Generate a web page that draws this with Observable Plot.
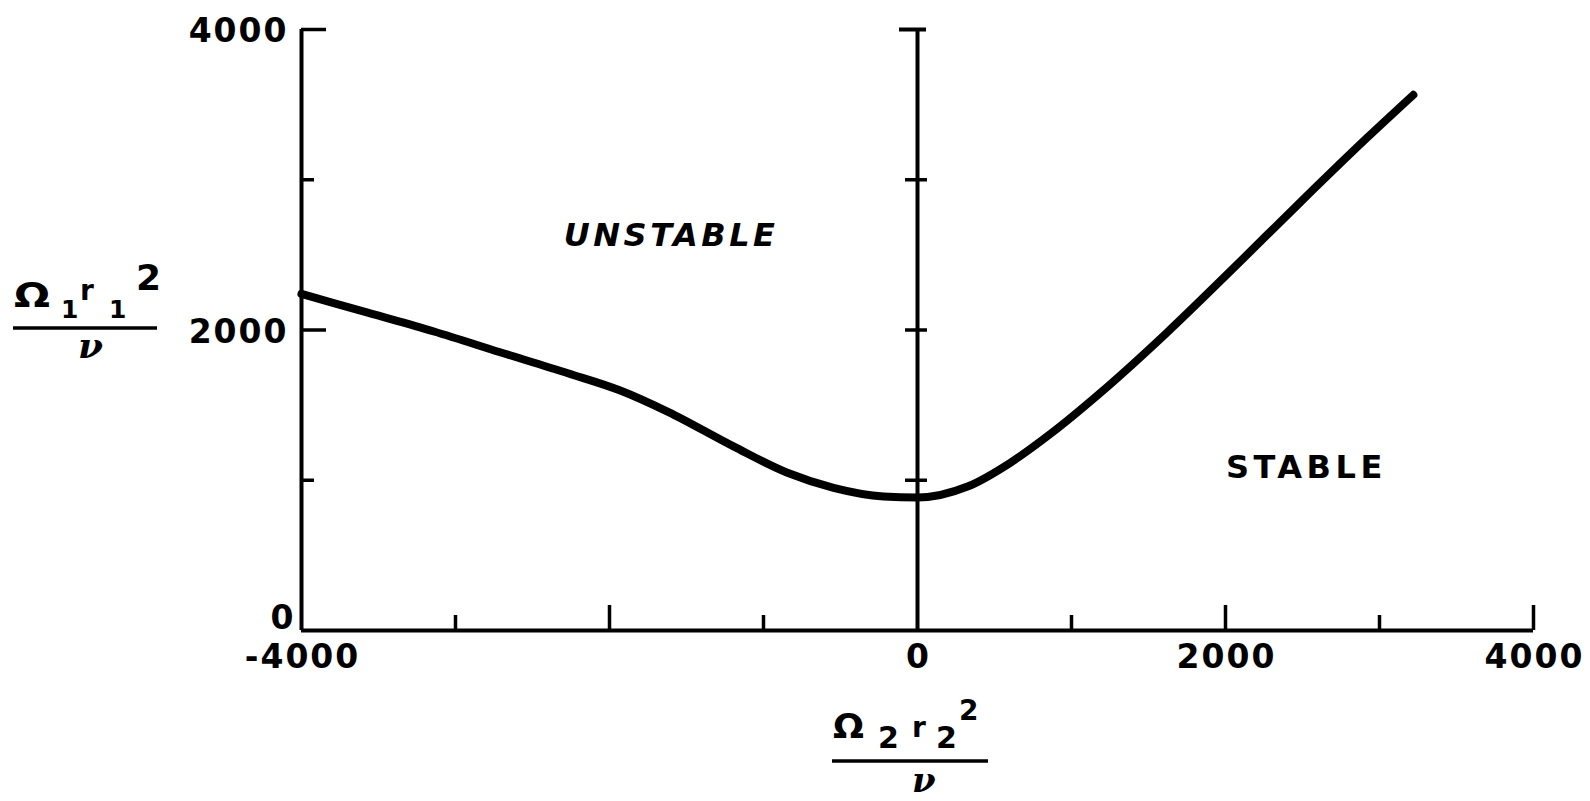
<!DOCTYPE html>
<html><head><meta charset="utf-8">
<script src="https://cdn.jsdelivr.net/npm/d3@7"></script>
<script src="https://cdn.jsdelivr.net/npm/@observablehq/plot@0.6"></script>
<style>
body{margin:0;background:#fff}
svg{display:block}
</style>
</head><body><div id="chart"></div>
<script>
// Curve: x = Ω2 r2²/ν, y = Ω1 r1²/ν
const curveX = [-4000, -3570, -3140, -2710, -2270, -1930, -1620, -1195, -845, -545, -220, 0, 325, 605, 865, 1190, 1620, 2050, 2490, 2920, 3220];
const curveY = [2240, 2115, 1990, 1852, 1712, 1597, 1455, 1225, 1050, 950, 892, 885, 958, 1118, 1310, 1584, 1983, 2410, 2855, 3280, 3565];

const xMajorTicks = [-2000, 2000, 4000];
const xMinorTicks = [-3000, -1000, 1000, 3000];
const yMajorTicks = [2000, 4000];
const yMinorTicks = [1000, 3000];
const centerTicks = [1000, 2000, 3000];
const centerTopTick = [4000];
const xTickLabels = [-4000, 0, 2000, 4000];
const yTickLabels = [2000, 4000];
const yZeroLabel = [0];

const regionNames = ["UNSTABLE", "STABLE"];
const regionX = [-1600, 2525];
const regionY = [2630, 1085];

const curve = curveX.map((x, i) => ({x, y: curveY[i]}));
const regions = regionNames.map((name, i) => ({name, x: regionX[i], y: regionY[i]}));

const font = "DejaVu Sans";
const chart = Plot.plot({
  width: 1590, height: 801,
  marginLeft: 301, marginRight: 57, marginTop: 29, marginBottom: 171,
  x: {domain: [-4000, 4000], axis: null},
  y: {domain: [0, 4000], axis: null},
  style: {background: "white", fontFamily: font, color: "black"},
  marks: [
    Plot.ruleX([-4000, 0], {y1: 0, y2: 4000, stroke: "black", strokeWidth: 4}),
    Plot.ruleY([0], {x1: -4000, x2: 4000, stroke: "black", strokeWidth: 4}),
    Plot.ruleX(xMajorTicks, {y1: 0, y2: 0, insetTop: 0, insetBottom: 25, stroke: "black", strokeWidth: 3.5}),
    Plot.ruleX(xMinorTicks, {y1: 0, y2: 0, insetTop: 0, insetBottom: 15, stroke: "black", strokeWidth: 3.5}),
    Plot.ruleY(yMajorTicks, {x1: -4000, x2: -4000, insetLeft: 0, insetRight: -25, stroke: "black", strokeWidth: 3.5}),
    Plot.ruleY(yMinorTicks, {x1: -4000, x2: -4000, insetLeft: 0, insetRight: -13, stroke: "black", strokeWidth: 3.5}),
    Plot.ruleY(centerTicks, {x1: 0, x2: 0, insetLeft: -12, insetRight: -10, stroke: "black", strokeWidth: 3.5}),
    Plot.ruleY(centerTopTick, {x1: 0, x2: 0, insetLeft: -18, insetRight: -9, stroke: "black", strokeWidth: 4}),
    Plot.line(curve, {x: "x", y: "y", curve: "monotone-x", stroke: "black", strokeWidth: 8, strokeLinecap: "round", strokeLinejoin: "round"}),
    Plot.text(yTickLabels, {x: () => -4000, y: d => d, text: d => String(d), textAnchor: "end", dx: -13, dy: 2, fontSize: 33, fontWeight: "bold", fill: "black"}),
    Plot.text(yZeroLabel, {x: () => -4000, y: d => d, text: d => String(d), textAnchor: "end", dx: -6, dy: -12, fontSize: 33, fontWeight: "bold", fill: "black"}),
    Plot.text(xTickLabels, {x: d => d, y: () => 0, text: d => String(d), textAnchor: "middle", dx: 1, dy: 27, fontSize: 33, fontWeight: "bold", fill: "black"}),
    Plot.text(regions.filter(d => d.name === "UNSTABLE"), {x: "x", y: "y", text: "name", fontSize: 32, fontStyle: "italic", fontWeight: "bold", fill: "black"}),
    Plot.text(regions.filter(d => d.name === "STABLE"), {x: "x", y: "y", text: "name", fontSize: 32, fontWeight: "bold", fill: "black"})
  ]
});
document.getElementById("chart").appendChild(chart);

const svg = d3.select(chart);
svg.selectAll("text").each(function() {
  const t = d3.select(this).text();
  if (t === "UNSTABLE") d3.select(this).attr("letter-spacing", "3.5px");
  else if (t === "STABLE") d3.select(this).attr("letter-spacing", "4.5px");
  else if (/^-?\d+$/.test(t)) d3.select(this).attr("letter-spacing", "2px");
});

function piece(g, str, x, y, size, opts = {}) {
  const t = g.append("text").attr("x", x).attr("y", y).attr("font-size", size)
    .attr("font-family", opts.family || font).attr("fill", "black")
    .attr("text-anchor", opts.anchor || "start").text(str);
  if (opts.italic) t.attr("font-style", "italic");
  t.attr("font-weight", opts.weight || "bold");
  if (opts.len) t.attr("textLength", opts.len).attr("lengthAdjust", "spacingAndGlyphs");
  return t;
}
const yt = svg.append("g").attr("class", "ytitle");
piece(yt, "Ω", 14, 307, 34, {len: 36});
piece(yt, "1", 61, 318, 25);
piece(yt, "r", 80, 300, 28);
piece(yt, "1", 109, 318, 25);
piece(yt, "2", 136, 290, 36);
yt.append("line").attr("x1", 13).attr("x2", 157).attr("y1", 328).attr("y2", 328).attr("stroke", "black").attr("stroke-width", 3.5);
piece(yt, "ν", 78, 358, 36, {family: "DejaVu Serif", italic: true});

const xt = svg.append("g").attr("class", "xtitle");
piece(xt, "Ω", 833, 738, 33, {len: 31});
piece(xt, "2", 878, 748, 30);
piece(xt, "r", 912, 737, 28);
piece(xt, "2", 936, 748, 30);
piece(xt, "2", 959, 720, 28);
xt.append("line").attr("x1", 832).attr("x2", 988).attr("y1", 761).attr("y2", 761).attr("stroke", "black").attr("stroke-width", 3.5);
piece(xt, "ν", 912, 792, 34, {family: "DejaVu Serif", italic: true});
</script>
</body></html>
